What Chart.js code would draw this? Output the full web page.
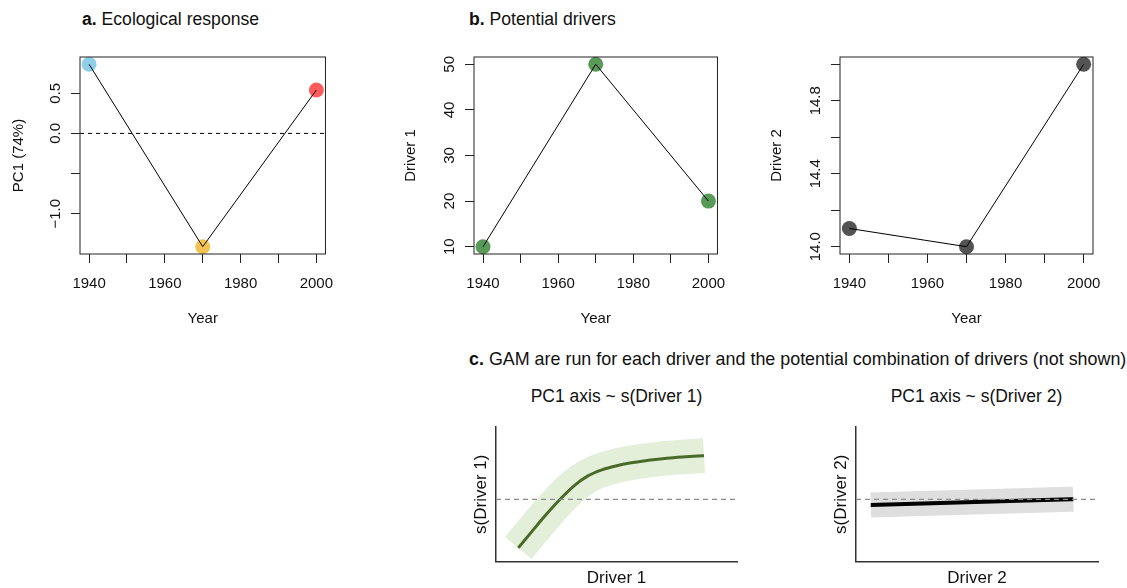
<!DOCTYPE html>
<html>
<head>
<meta charset="utf-8">
<script src="https://cdn.jsdelivr.net/npm/chart.js@4.4.1/dist/chart.umd.min.js"></script>
<style>
  html, body { margin: 0; padding: 0; background: #fff; overflow: hidden; width: 1127px; height: 588px; }
  .lab { position: absolute; font-family: "Liberation Sans", Arial, Helvetica, sans-serif; color: #111; white-space: nowrap; line-height: 1; }
  .ctr { text-align: center; width: 400px; }
  canvas { position: absolute; }
</style>
</head>
<body>
<div class="lab" style="left:82px;top:10.8px;font-size:17.6px"><b>a.</b> Ecological response</div>
<div class="lab" style="left:469px;top:10.8px;font-size:17.6px"><b>b.</b> Potential drivers</div>
<div class="lab" style="left:469px;top:351.1px;font-size:17.9px"><b>c.</b> GAM are run for each driver and the potential combination of drivers (not shown)</div>
<div class="lab ctr" style="left:416.5px;top:387.9px;font-size:17.5px">PC1 axis ~ s(Driver 1)</div>
<div class="lab ctr" style="left:776.5px;top:387.9px;font-size:17.5px">PC1 axis ~ s(Driver 2)</div>

<script>
// ---- observations ----
const years = [1940, 1970, 2000];
const pc1 = [0.86, -1.41, 0.54];
const driver1 = [10, 50, 20];
const driver2 = [14.1, 14.0, 15.0];

// ---- axis ticks ----
const yearTicks = [1940, 1950, 1960, 1970, 1980, 1990, 2000];
const yearTickLabels = ['1940', '', '1960', '', '1980', '', '2000'];
const pc1Ticks = [-1.0, -0.5, 0.0, 0.5];
const pc1TickLabels = ['\u22121.0', '', '0.0', '0.5'];
const driver1Ticks = [10, 20, 30, 40, 50];
const driver1TickLabels = ['10', '20', '30', '40', '50'];
const driver2Ticks = [14.0, 14.2, 14.4, 14.6, 14.8, 15.0];
const driver2TickLabels = ['14.0', '', '14.4', '', '14.8', ''];

// ---- fitted smooths (GAM) ----
const gam1X = [10, 13, 16, 19, 22, 25, 28, 31, 34, 38, 42, 46, 50];
const gam1Fit = [-0.81, -0.53, -0.255, 0.0, 0.225, 0.39, 0.49, 0.555, 0.605, 0.65, 0.685, 0.708, 0.727];
const gam2X = [14.0, 15.0];
const gam2Fit = [-0.095, 0.0];

// ---- styling ----
const pc1Colors = ['rgba(130,202,230,0.9)', 'rgba(240,185,50,0.85)', 'rgba(255,50,50,0.8)'];
const driver1Color = 'rgba(34,120,34,0.75)';
const driver2Color = 'rgba(40,40,40,0.8)';
const FONT = '"Liberation Sans", Arial, Helvetica, sans-serif';

Chart.defaults.font.family = FONT;
Chart.defaults.font.size = 15;
Chart.defaults.color = '#111';

function makeCanvas(left, top, w, h) {
  const c = document.createElement('canvas');
  c.width = w; c.height = h;
  c.style.left = left + 'px'; c.style.top = top + 'px';
  c.style.width = w + 'px'; c.style.height = h + 'px';
  document.body.appendChild(c);
  return c;
}

// Base-graphics style frame: full box and vertical tick labels on the y axis
const boxFrame = {
  id: 'boxFrame',
  afterDraw(chart, args, opts) {
    const { ctx, chartArea: a } = chart;
    const ys = chart.scales.y;
    ctx.save();
    ctx.strokeStyle = '#222';
    ctx.lineWidth = 1;
    ctx.strokeRect(a.left, a.top, a.right - a.left, a.bottom - a.top);
    ctx.font = '15px ' + FONT;
    ctx.fillStyle = '#111';
    ctx.textAlign = 'center';
    ctx.textBaseline = 'alphabetic';
    opts.ticks.forEach((v, i) => {
      const txt = opts.labels[i];
      if (!txt) return;
      ctx.save();
      ctx.translate(a.left - 20.5, ys.getPixelForValue(v));
      ctx.rotate(-Math.PI / 2);
      ctx.fillText(txt, 0, 0);
      ctx.restore();
    });
    ctx.restore();
  }
};

function timePanel(cfg) {
  const canvas = makeCanvas(cfg.left, 0, cfg.width, 340);
  const pts = years.map((yr, i) => ({ x: yr, y: cfg.values[i] }));
  const datasets = [
    { data: pts, showLine: true, borderColor: '#000', borderWidth: 1, pointRadius: 0, order: 0 },
    { data: pts, showLine: false, pointRadius: 7.5, pointBorderWidth: 0,
      pointBackgroundColor: cfg.colors, order: 1, clip: false }
  ];
  if (cfg.zeroLine) {
    datasets.push({ data: [{ x: cfg.xMin, y: 0 }, { x: cfg.xMax, y: 0 }], showLine: true,
      borderColor: '#000', borderWidth: 1, borderDash: [4, 4], pointRadius: 0, order: 2 });
  }
  return new Chart(canvas, {
    type: 'scatter',
    data: { datasets },
    plugins: [boxFrame],
    options: {
      responsive: false, animation: false, devicePixelRatio: 1,
      layout: { padding: { left: 0, top: 57, right: cfg.padRight, bottom: 0 } },
      plugins: {
        legend: { display: false }, tooltip: { enabled: false },
        boxFrame: { ticks: cfg.yTicks, labels: cfg.yLabels }
      },
      scales: {
        x: {
          type: 'linear', min: cfg.xMin, max: cfg.xMax,
          afterBuildTicks: s => { s.ticks = yearTicks.map(v => ({ value: v })); },
          afterFit: s => { s.height = 86; },
          ticks: { autoSkip: false, maxRotation: 0, padding: 11.5,
            callback: v => yearTickLabels[yearTicks.indexOf(v)] },
          grid: { drawOnChartArea: false, drawTicks: true, tickLength: 9, color: '#222', lineWidth: 1 },
          border: { display: false },
          title: { display: true, text: 'Year', font: { size: 15 }, padding: { top: 0, bottom: 12 } }
        },
        y: {
          type: 'linear', min: cfg.yMin, max: cfg.yMax,
          afterBuildTicks: s => { s.ticks = cfg.yTicks.map(v => ({ value: v })); },
          afterFit: s => { s.width = cfg.yWidth; },
          ticks: { display: false },
          grid: { drawOnChartArea: false, drawTicks: true, tickLength: 9, color: '#222', lineWidth: 1 },
          border: { display: false },
          title: { display: true, text: cfg.yTitle, font: { size: 15 }, padding: { top: cfg.yTitlePad, bottom: 0 } }
        }
      }
    }
  });
}

timePanel({ left: 0, width: 345, padRight: 12, yWidth: 80, yTitlePad: 9.8,
  values: pc1, colors: pc1Colors, zeroLine: true,
  xMin: 1937.6, xMax: 2002.4, yMin: -1.501, yMax: 0.951,
  yTicks: pc1Ticks, yLabels: pc1TickLabels, yTitle: 'PC1 (74%)' });

timePanel({ left: 380, width: 357, padRight: 10, yWidth: 94, yTitlePad: 21.8,
  values: driver1, colors: driver1Color, zeroLine: false,
  xMin: 1937.6, xMax: 2002.4, yMin: 8.4, yMax: 51.6,
  yTicks: driver1Ticks, yLabels: driver1TickLabels, yTitle: 'Driver 1' });

timePanel({ left: 740, width: 387, padRight: 34, yWidth: 100, yTitlePad: 27.5,
  values: driver2, colors: driver2Color, zeroLine: false,
  xMin: 1937.6, xMax: 2002.4, yMin: 13.96, yMax: 15.04,
  yTicks: driver2Ticks, yLabels: driver2TickLabels, yTitle: 'Driver 2' });

// ---- GAM partial-effect panels ----
function gamPanel(cfg) {
  const canvas = makeCanvas(cfg.left, 415, cfg.width, 180);
  const fit = cfg.xs.map((x, i) => ({ x, y: cfg.fit[i] }));
  return new Chart(canvas, {
    type: 'scatter',
    data: { datasets: [
      { data: [{ x: cfg.xMin, y: 0 }, { x: cfg.xMax, y: 0 }], showLine: true,
        borderColor: '#8c8c8c', borderWidth: 1.2, borderDash: [5, 4], pointRadius: 0, order: 0 },
      { data: fit, showLine: true, borderColor: cfg.lineColor, borderWidth: cfg.lineWidth,
        cubicInterpolationMode: 'monotone', borderCapStyle: 'butt', pointRadius: 0, order: 1 },
      { data: fit, showLine: true, borderColor: cfg.bandColor, borderWidth: cfg.bandWidth,
        cubicInterpolationMode: 'monotone', borderCapStyle: 'butt', borderJoinStyle: 'round',
        pointRadius: 0, order: 2, clip: false }
    ] },
    options: {
      responsive: false, animation: false, devicePixelRatio: 1,
      layout: { padding: { left: 0, top: 12, right: cfg.padRight, bottom: 0 } },
      plugins: { legend: { display: false }, tooltip: { enabled: false } },
      scales: {
        x: {
          type: 'linear', min: cfg.xMin, max: cfg.xMax,
          afterFit: s => { s.height = 33.5; },
          ticks: { display: false },
          grid: { drawOnChartArea: false, drawTicks: false },
          border: { display: true, color: '#333', width: 1.5 },
          title: { display: true, text: cfg.xTitle, font: { size: 17 }, padding: { top: 0, bottom: 6.4 } }
        },
        y: {
          type: 'linear', min: -1.037, max: 1.205,
          afterFit: s => { s.width = 56; },
          ticks: { display: false },
          grid: { drawOnChartArea: false, drawTicks: false },
          border: { display: true, color: '#333', width: 1.5 },
          title: { display: true, text: cfg.yTitle, font: { size: 17 }, padding: { top: 30.8, bottom: 0 } }
        }
      }
    }
  });
}

gamPanel({ left: 440, width: 320, padRight: 23, xMin: 5.2, xMax: 57.1,
  xs: gam1X, fit: gam1Fit, lineColor: '#4a6a28', lineWidth: 3,
  bandColor: '#e3efd9', bandWidth: 34.5, xTitle: 'Driver 1', yTitle: 's(Driver 1)' });

gamPanel({ left: 800, width: 327, padRight: 29, xMin: 13.927, xMax: 15.122,
  xs: gam2X, fit: gam2Fit, lineColor: '#000', lineWidth: 4,
  bandColor: '#dedede', bandWidth: 25, xTitle: 'Driver 2', yTitle: 's(Driver 2)' });
</script>
</body>
</html>
